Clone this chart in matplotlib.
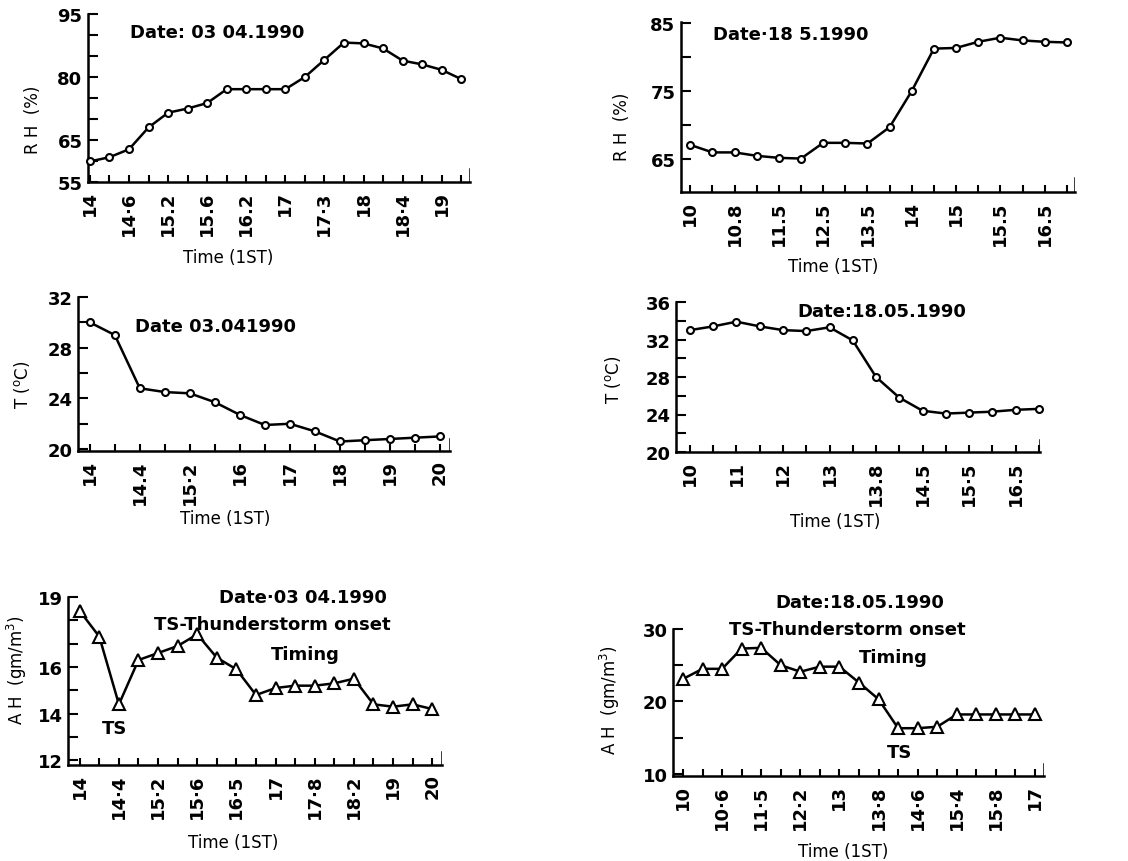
import matplotlib.pyplot as plt

W, H = 1128, 862

# ---- data ----
rh1_vals = [59.9, 60.9, 62.8, 68.0, 71.5, 72.5, 73.8, 77.1, 77.1, 77.1, 77.1,
            80.0, 84.1, 88.2, 88.0, 86.8, 83.9, 83.0, 81.7, 79.5]
rh1_ticks = ['14', '14·6', '15.2', '15.6', '16.2', '17', '17·3', '18', '18·4', '19']

rh2_vals = [67.1, 66.0, 66.0, 65.5, 65.2, 65.1, 67.4, 67.4, 67.3, 69.7, 75.0,
            81.2, 81.3, 82.2, 82.8, 82.4, 82.2, 82.1]
rh2_ticks = ['10', '10.8', '11.5', '12.5', '13.5', '14', '15', '15.5', '16.5']

t1_vals = [30.0, 29.0, 24.8, 24.5, 24.4, 23.7, 22.7, 21.9, 22.0, 21.4, 20.6,
           20.7, 20.8, 20.9, 21.0]
t1_ticks = ['14', '14.4', '15·2', '16', '17', '18', '19', '20']

t2_vals = [33.0, 33.4, 33.9, 33.4, 33.0, 32.9, 33.3, 31.9, 28.0, 25.8, 24.4,
           24.1, 24.2, 24.3, 24.5, 24.6]
t2_ticks = ['10', '11', '12', '13', '13.8', '14.5', '15·5', '16.5']

ah1_vals = [18.4, 17.3, 14.4, 16.3, 16.6, 16.9, 17.4, 16.4, 15.9, 14.8, 15.1,
            15.2, 15.2, 15.3, 15.5, 14.4, 14.3, 14.4, 14.2]
ah1_ticks = ['14', '14·4', '15·2', '15·6', '16·5', '17', '17·8', '18·2', '19', '20']

ah2_vals = [23.1, 24.5, 24.5, 27.3, 27.4, 25.0, 24.1, 24.8, 24.8, 22.6, 20.3,
            16.3, 16.3, 16.5, 18.2, 18.2, 18.2, 18.2, 18.2]
ah2_ticks = ['10', '10·6', '11·5', '12·2', '13', '13·8', '14·6', '15·4', '15·8', '17']

xlabel = 'Time (1ST)'


def px(x, y):
    return x / W, 1 - y / H


def make_axes(fig, l, r, t, b):
    ax = fig.add_axes([l / W, 1 - b / H, (r - l) / W, (b - t) / H])
    for s in ['top', 'right']:
        ax.spines[s].set_visible(False)
    for s in ['left', 'bottom']:
        ax.spines[s].set_linewidth(1.8)
    ax.tick_params(axis='x', direction='in', length=5, width=1.5, pad=6,
                   labelsize=13)
    ax.tick_params(axis='y', direction='in', length=7, width=1.5, pad=4,
                   labelsize=13)
    return ax


def draw(ax, vals, ticks, marker, ms, xlim, ylim, yticks, ylabels):
    x = list(range(len(vals)))
    ax.plot(x, vals, color='black', lw=1.8, marker=marker, ms=ms,
            mfc='white', mec='black', mew=1.5, clip_on=False, zorder=3)
    ax.set_xlim(*xlim)
    ax.set_ylim(*ylim)
    ax.set_xticks(x)
    labels = []
    for i in x:
        labels.append(ticks[i // 2] if i % 2 == 0 and i // 2 < len(ticks) else '')
    ax.set_xticklabels(labels, rotation=90, fontweight='bold')
    ax.set_yticks(yticks)
    ax.set_yticklabels([str(v) if v in ylabels else '' for v in yticks],
                       fontweight='bold')
    # short upright stroke at the right end of the time axis
    ax.axvline(xlim[1], ymax=0.08, color='black', lw=1.8)


fig = plt.figure(figsize=(W / 100, H / 100), dpi=100)

ax1 = make_axes(fig, 88, 470, 15, 183)
draw(ax1, rh1_vals, rh1_ticks, 'o', 5, (-0.1, 19.45), (55, 95),
     list(range(55, 96, 5)), [55, 65, 80, 95])
ax2 = make_axes(fig, 681, 1075, 23, 193)
draw(ax2, rh2_vals, rh2_ticks, 'o', 5, (-0.42, 17.37), (60.2, 85.1),
     list(range(65, 86, 5)), [65, 75, 85])
ax3 = make_axes(fig, 78, 450, 298, 452)
draw(ax3, t1_vals, t1_ticks, 'o', 5, (-0.47, 14.4), (19.85, 32),
     list(range(20, 33, 2)), [20, 24, 28, 32])
ax4 = make_axes(fig, 676, 1040, 303, 453)
draw(ax4, t2_vals, t2_ticks, 'o', 5, (-0.6, 15.05), (20, 36),
     list(range(20, 37, 2)), [20, 24, 28, 32, 36])
ax5 = make_axes(fig, 68, 442, 598, 766)
draw(ax5, ah1_vals, ah1_ticks, '^', 8, (-0.6, 18.5), (11.8, 19),
     list(range(12, 20)), [12, 14, 16, 19])
ax6 = make_axes(fig, 673, 1044, 630, 777)
draw(ax6, ah2_vals, ah2_ticks, '^', 8, (-0.51, 18.46), (9.7, 30),
     list(range(10, 31, 5)), [10, 20, 30])

# axis titles
fs = 12
for (xc, yc) in [(228, 258), (833, 267), (225, 519), (835, 522), (233, 843), (843, 852)]:
    fig.text(*px(xc, yc), xlabel, ha='center', va='center', fontsize=fs)
for (xc, yc, s) in [(33, 120, 'R H  (%)'), (622, 127, 'R H  (%)'),
                    (22, 385, 'T ($^{\\mathrm{o}}$C)'), (613, 380, 'T ($^{\\mathrm{o}}$C)'),
                    (17, 670, 'A H  (gm/m$^{3}$)'), (610, 700, 'A H  (gm/m$^{3}$)')]:
    fig.text(*px(xc, yc), s, ha='center', va='center', rotation=90, fontsize=fs)

# date notes
dfs = 13
fig.text(*px(130, 33), 'Date: 03 04.1990', ha='left', va='center', fontsize=dfs, fontweight='bold')
fig.text(*px(713, 35), 'Date·18 5.1990', ha='left', va='center', fontsize=dfs, fontweight='bold')
fig.text(*px(135, 327), 'Date 03.041990', ha='left', va='center', fontsize=dfs, fontweight='bold')
fig.text(*px(797, 312), 'Date:18.05.1990', ha='left', va='center', fontsize=dfs, fontweight='bold')

for (xc, yc, s) in [(303, 598, 'Date·03 04.1990'), (272, 625, 'TS-Thunderstorm onset'),
                    (305, 655, 'Timing'), (860, 603, 'Date:18.05.1990'),
                    (847, 630, 'TS-Thunderstorm onset'), (893, 658, 'Timing')]:
    fig.text(*px(xc, yc), s, ha='center', va='center', fontsize=dfs, fontweight='bold')

ax5.text(1.8, 13.4, 'TS', ha='center', va='center', fontsize=dfs, fontweight='bold')
ax6.text(11.1, 13.0, 'TS', ha='center', va='center', fontsize=dfs, fontweight='bold')

plt.savefig('out.png', dpi=100)
plt.close()
